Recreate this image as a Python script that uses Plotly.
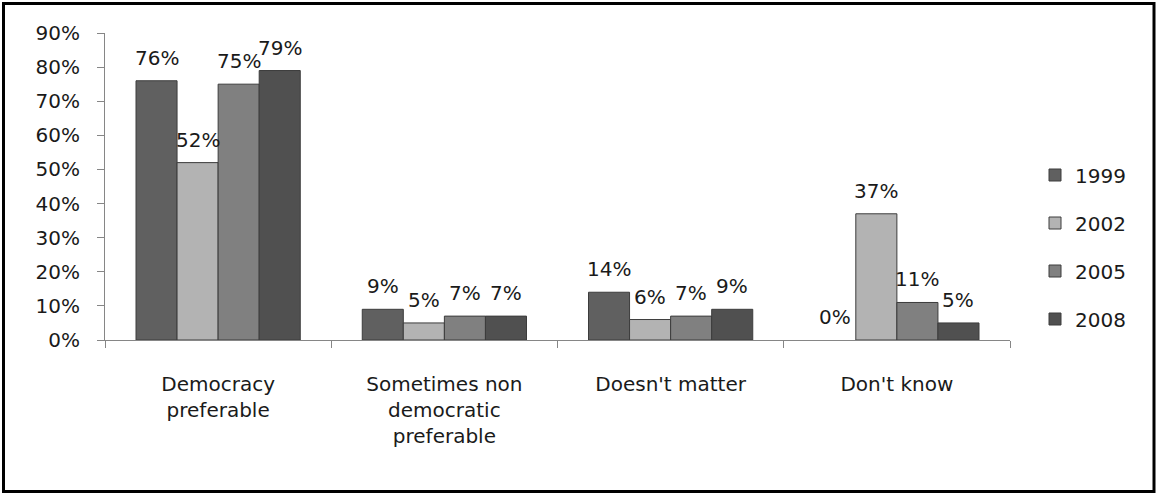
import plotly.graph_objects as go

categories = ["Democracy<br>preferable", "Sometimes non<br>democratic<br>preferable",
              "Doesn't matter", "Don't know"]
years = ["1999", "2002", "2005", "2008"]
values_1999 = [0.76, 0.09, 0.14, 0.00]
values_2002 = [0.52, 0.05, 0.06, 0.37]
values_2005 = [0.75, 0.07, 0.07, 0.11]
values_2008 = [0.79, 0.07, 0.09, 0.05]
series = [values_1999, values_2002, values_2005, values_2008]
colors = ["#606060", "#b3b3b3", "#808080", "#505050"]

FONT = "DejaVu Sans"
FS = 20
TXT = "#1a1a1a"
W, H = 1158, 495
ML, MR, MT, MB = 105, 148, 33, 155
PW, PH = W - ML - MR, H - MT - MB
BARGAP = 0.274
n_series = len(series)
bar_w = (1 - BARGAP) / n_series

fig = go.Figure()
for name, vals, col in zip(years, series, colors):
    fig.add_trace(go.Bar(
        x=categories, y=vals, name=name, legendgroup=name,
        marker=dict(color=col,
                    line=dict(color="#3c3c3c", width=[1 if v > 0 else 0 for v in vals])),
    ))

# value labels sitting a little above each bar
annotations = []
for i, vals in enumerate(series):
    for j, v in enumerate(vals):
        annotations.append(dict(
            x=j + (i - (n_series - 1) / 2) * bar_w, y=v, xref="x", yref="y",
            text=f"{v:.0%}", showarrow=False, yanchor="bottom", yshift=9,
            font=dict(family=FONT, size=FS, color=TXT),
        ))

def px_x(p):
    return (p - ML) / PW

def px_y(p):
    return (H - MB - p) / PH

fig.update_layout(
    width=W, height=H,
    margin=dict(l=ML, r=MR, t=MT, b=MB),
    barmode="group", bargap=BARGAP, bargroupgap=0,
    plot_bgcolor="white", paper_bgcolor="white",
    font=dict(family=FONT, size=FS, color=TXT),
    legend=dict(x=px_x(1035), y=px_y(247), xanchor="left", yanchor="middle",
                font=dict(family=FONT, size=FS, color=TXT),
                tracegroupgap=19, bgcolor="rgba(0,0,0,0)"),
    xaxis=dict(showgrid=False, showline=True, linecolor="#868686", linewidth=1,
               ticks="outside", tickson="boundaries", ticklen=7, tickcolor="#868686",
               ticklabelstandoff=26, tickfont=dict(family=FONT, size=FS, color=TXT)),
    yaxis=dict(range=[0, 0.9], dtick=0.1, tickformat=".0%", showgrid=False,
               showline=True, linecolor="#868686", linewidth=1, zeroline=False,
               ticks="outside", ticklen=7, tickcolor="#868686", ticklabelstandoff=13,
               tickfont=dict(family=FONT, size=FS, color=TXT)),
    annotations=annotations,
    shapes=[dict(type="rect", xref="paper", yref="paper",
                 x0=px_x(3.5), x1=px_x(1154), y0=px_y(491.5), y1=px_y(3.5),
                 line=dict(color="#000", width=3), fillcolor="rgba(0,0,0,0)")],
)

fig.write_html("out.html")
